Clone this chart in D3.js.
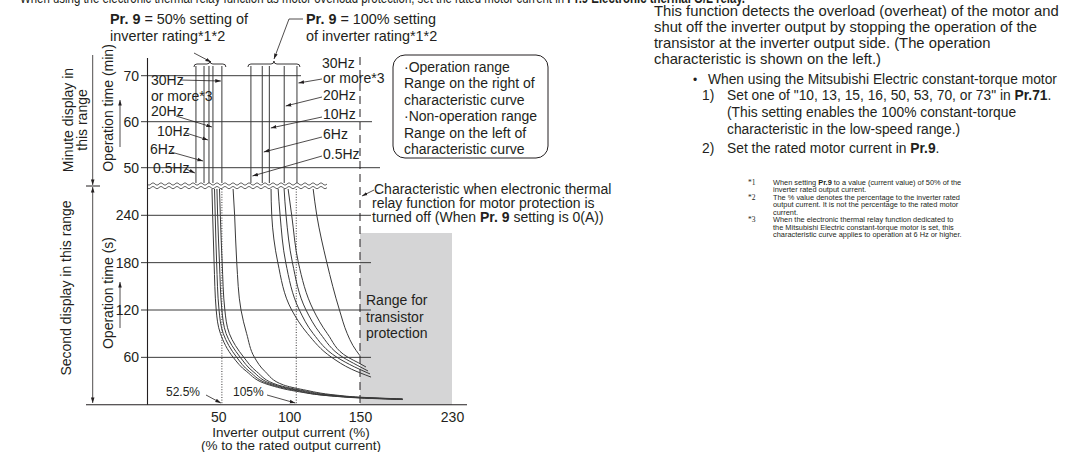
<!DOCTYPE html>
<html>
<head>
<meta charset="utf-8">
<script src="https://cdn.jsdelivr.net/npm/d3@7"></script>
<style>
  body { margin: 0; background: #fff; }
  svg { display: block; font-family: "Liberation Sans", Arial, sans-serif; }
</style>
</head>
<body>
<div id="chart"></div>
<script>
// ---- data ----
const xTicks = [50, 100, 150, 230];
const minTicks = [70, 60, 50];
const secTicks = [240, 180, 120, 60];
const freqLabels = ["0.5Hz", "6Hz", "10Hz", "20Hz", "30Hz"];

// minute range: near-vertical characteristic (% of inverter rated current)
const minLines50 = [34.2, 39.9, 43.4, 46.2, 52.5];
const minLines100 = [73, 81, 86, 96.5, 105.5];

// second range: [current %, operation time s]
const curves50 = [
  [[45.5,274],[46,240],[47,180],[48.5,120],[51.5,90],[60.5,60],[70,42],[86,25],[105,17],[130,11],[150,8.5],[187,6.5]],
  [[47.3,274],[47.8,240],[48.8,180],[50.5,120],[53.5,90],[63,60],[72,42],[88,25],[106,17.5],[131,11],[150,8.8],[187,6.7]],
  [[49,274],[49.5,240],[50.8,180],[52.5,120],[55.5,90],[65.5,60],[74.5,42],[90,25],[107,18],[132,11.3],[150,9],[187,6.9]],
  [[50.8,274],[51.4,240],[52.7,180],[54.6,120],[57.8,90],[68,60],[77,42],[92,25],[108,18.5],[133,11.6],[150,9.2],[187,7.1]],
  [[60.4,274],[61.5,240],[63,180],[66,120],[70,90],[75.5,60],[83,42],[96,25],[110,19],[134,12],[150,9.5],[187,7.3]]
];
const curves100 = [
  [[87.2,274],[87.7,240],[92,180],[101.8,120],[113,90],[130,60],[144,45],[159.6,35]],
  [[92.2,274],[93.6,240],[97.6,180],[107.2,120],[117,90],[133.8,60],[146,48],[158.7,39]],
  [[96.4,274],[97.8,240],[102.3,180],[111.9,120],[122,90],[138,60],[148,50],[157,42.7]],
  [[99.2,274],[101.8,240],[106.5,180],[117.1,120],[127,90],[141.6,60],[149,53],[155.2,47.8]],
  [[116.9,274],[119.5,240],[126.6,180],[135.5,120],[141,90],[145,75],[150,62]]
];
const refLines = [52.5, 105];
const refLabels = ["52.5%", "105%"];
const transistorRange = [150, 230];

// ---- scales ----
const x = d3.scaleLinear().domain([0, 150, 230]).range([147.5, 360, 452]);
const ySec = d3.scaleLinear().domain([0, 240]).range([404.7, 215.3]);
const yMin = d3.scaleLinear().domain([50, 70]).range([167.7, 75.7]);

const ink = "#231f20", lineCol = "#3a3a3a";

const svg = d3.select('#chart').append('svg')
  .attr('width', 1080).attr('height', 452)
  .attr('viewBox', [0, 0, 1080, 452]);

svg.append('defs').append('marker')
  .attr('id', 'arr').attr('viewBox', '0 0 10 10')
  .attr('refX', 10).attr('refY', 5)
  .attr('markerWidth', 7).attr('markerHeight', 7)
  .attr('orient', 'auto')
  .append('path').attr('d', 'M0,1.8 L10,5 L0,8.2 Z').attr('fill', ink);

// text helper, parts = [[text, bold], ...]
function txt(g, xx, yy, parts, size, anchor) {
  const t = g.append('text').attr('x', xx).attr('y', yy)
    .attr('font-size', size || 14).attr('fill', ink)
    .attr('text-anchor', anchor || 'start');
  (typeof parts === 'string' ? [[parts, false]] : parts).forEach(p => {
    t.append('tspan').text(p[0]).attr('font-weight', p[1] ? 'bold' : null);
  });
  return t;
}
function arrow(g, pts, w) {
  g.append('path').attr('d', d3.line()(pts)).attr('fill', 'none')
    .attr('stroke', ink).attr('stroke-width', w || 0.8).attr('marker-end', 'url(#arr)');
}

// cut-off heading line (only its lower edge shows)
txt(svg, 20, 3, [["When using the electronic thermal relay function as motor overload protection, set the rated motor current in ", false], ["Pr.9 Electronic thermal O/L relay.", true]], 14)
  .attr('textLength', 725).attr('lengthAdjust', 'spacingAndGlyphs');

// ---- chart ----
const g = svg.append('g');

// transistor protection range
g.append('rect')
  .attr('x', x(transistorRange[0])).attr('y', 233)
  .attr('width', x(transistorRange[1]) - x(transistorRange[0]))
  .attr('height', ySec(0) - 233)
  .attr('fill', '#d5d5d6');

// minute gridlines
const minEnds = { 70: 301, 60: 372, 50: 380 };
g.selectAll('.gmin').data(minTicks).join('line')
  .attr('x1', 141).attr('x2', d => minEnds[d])
  .attr('y1', d => yMin(d)).attr('y2', d => yMin(d))
  .attr('stroke', lineCol).attr('stroke-width', 1);
g.selectAll('.tmin').data(minTicks).join('text')
  .attr('x', 139).attr('y', d => yMin(d) + 5).attr('text-anchor', 'end')
  .attr('font-size', 14).attr('fill', ink).text(d => d);

// second gridlines
g.selectAll('.gsec').data(secTicks).join('line')
  .attr('x1', 141).attr('x2', 371)
  .attr('y1', d => ySec(d)).attr('y2', d => ySec(d))
  .attr('stroke', lineCol).attr('stroke-width', 1);
g.append('g').attr('transform', 'translate(141,0)')
  .call(d3.axisLeft(ySec).tickValues(secTicks).tickSize(0).tickPadding(2))
  .call(a => a.select('.domain').remove())
  .call(a => a.selectAll('text').attr('font-size', 14).attr('fill', ink)
    .attr('font-family', '"Liberation Sans", Arial, sans-serif'));

// 150% line (thermal off characteristic)
g.append('line')
  .attr('x1', x(150)).attr('x2', x(150)).attr('y1', 57).attr('y2', ySec(0))
  .attr('stroke', ink).attr('stroke-width', 1).attr('stroke-dasharray', '8,5');

// reference dotted lines
g.selectAll('.ref').data(refLines).join('line')
  .attr('x1', d => x(d)).attr('x2', d => x(d)).attr('y1', 189).attr('y2', ySec(0))
  .attr('stroke', ink).attr('stroke-width', 0.9).attr('stroke-dasharray', '1,1.6');

// minute range vertical lines
const minTop = 66, minBot = 186;
[minLines50, minLines100].forEach(arr => {
  g.selectAll(null).data(arr).join('line')
    .attr('x1', d => x(d)).attr('x2', d => x(d))
    .attr('y1', minTop).attr('y2', minBot)
    .attr('stroke', lineCol).attr('stroke-width', 1);
});

// second range curves
const curveLine = d3.line().x(d => x(d[0])).y(d => ySec(d[1])).curve(d3.curveMonotoneY);
g.selectAll('.c50').data(curves50.concat(curves100)).join('path')
  .attr('d', curveLine).attr('fill', 'none')
  .attr('stroke', lineCol).attr('stroke-width', 1);

// wavy break
g.append('rect').attr('x', 148).attr('y', 183).attr('width', 181).attr('height', 6).attr('fill', '#fff');
[184, 187.6].forEach(yy => {
  const pts = d3.range(147, 328, 1).map(xx => [xx, yy + 1.1 * Math.sin((xx - 147) / 8 * 2 * Math.PI)]);
  g.append('path').attr('d', d3.line()(pts)).attr('fill', 'none')
    .attr('stroke', lineCol).attr('stroke-width', 0.8);
});

// axes lines
g.append('line').attr('x1', 147.5).attr('x2', 147.5).attr('y1', 58).attr('y2', ySec(0))
  .attr('stroke', ink).attr('stroke-width', 1.1);
g.append('line').attr('x1', 86).attr('x2', 467).attr('y1', ySec(0)).attr('y2', ySec(0))
  .attr('stroke', ink).attr('stroke-width', 1.1);

// x axis
g.append('g').attr('transform', `translate(0,${ySec(0)})`)
  .call(d3.axisBottom(x).tickValues(xTicks).tickSize(0).tickPadding(7))
  .call(a => a.select('.domain').remove())
  .call(a => a.selectAll('text').attr('font-size', 14).attr('fill', ink)
    .attr('font-family', '"Liberation Sans", Arial, sans-serif'));
txt(g, 291, 437, "Inverter output current (%)", 13.5, 'middle');
txt(g, 291, 450, "(% to the rated output current)", 13.5, 'middle');

// ref labels
refLabels.forEach((lab, i) => {
  const lx = i === 0 ? 166 : 233;
  txt(g, lx, 396, lab, 12);
  arrow(g, [[lx + (i === 0 ? 40 : 34), 395], [x(refLines[i]) - 1, 403]]);
});

// left axis titles
function vtext(xx, yy, s, size) {
  g.append('text').attr('transform', `translate(${xx},${yy}) rotate(-90)`)
    .attr('text-anchor', 'middle').attr('font-size', size || 14).attr('fill', ink).text(s);
}
vtext(113, 108, "Operation time (min)");
vtext(113, 293, "Operation time (s)");
vtext(73, 120, "Minute display in");
vtext(87, 120, "this range");
vtext(71, 288, "Second display in this range");
arrow(g, [[120, 147], [120, 100]]);
arrow(g, [[120, 328], [120, 282]]);

// range arrows on far left
g.append('line').attr('x1', 86).attr('x2', 100).attr('y1', 186).attr('y2', 186)
  .attr('stroke', ink).attr('stroke-width', 1);
arrow(g, [[92.7, 55], [92.7, 185]]);
arrow(g, [[92.7, 300], [92.7, 187]]);
arrow(g, [[92.7, 300], [92.7, 403]]);

// brackets
function brace(x1, x2, yy) {
  const m = (x1 + x2) / 2;
  const d = `M${x1},${yy + 3} Q${x1},${yy} ${x1 + 3},${yy} L${m - 3},${yy} Q${m},${yy} ${m},${yy - 3} Q${m},${yy} ${m + 3},${yy} L${x2 - 3},${yy} Q${x2},${yy} ${x2},${yy + 3}`;
  g.append('path').attr('d', d).attr('fill', 'none').attr('stroke', ink).attr('stroke-width', 0.9);
}
brace(x(minLines50[0]) - 2, x(minLines50[4]) + 4, 64);
brace(x(minLines100[0]) - 3, x(minLines100[4]) + 3, 64);

txt(g, 110, 24, [["Pr. 9", true], [" = 50% setting of", false]], 14.4);
txt(g, 110, 41, "inverter rating*1*2", 14.4);
arrow(g, [[194, 53], [211, 62]]);
txt(g, 306, 24, [["Pr. 9", true], [" = 100% setting", false]], 14.4);
txt(g, 306, 41, "of inverter rating*1*2", 14.4);
arrow(g, [[303, 19], [289, 19], [274, 59]]);

// frequency labels, 50% group
const lab50 = [
  { tx: 153, ty: 173, from: [186, 169], ty2: 173 },
  { tx: 150, ty: 154, from: [171, 152], ty2: 161 },
  { tx: 157, ty: 136, from: [186, 133], ty2: 140 },
  { tx: 151, ty: 116, from: [176, 116], ty2: 127 },
  { tx: 151, ty: 85, from: [180, 80], ty2: 81 }
];
lab50.forEach((d, i) => {
  txt(g, d.tx, d.ty, freqLabels[i], 14);
  arrow(g, [d.from, [x(minLines50[i]) - 1, d.ty2]]);
});
txt(g, 151, 101, "or more*3", 14);

const lab100 = [
  { t: "0.5Hz", ty: 159, from: [322, 156], ty2: 176 },
  { t: "6Hz", ty: 139, from: [322, 137], ty2: 152 },
  { t: "10Hz", ty: 119, from: [322, 117], ty2: 128 },
  { t: "20Hz", ty: 100, from: [322, 97], ty2: 106 },
  { t: "or more*3", ty: 83, from: [322, 79], ty2: 83 }
];
lab100.forEach((d, i) => {
  txt(g, 323, d.ty, d.t, 14);
  arrow(g, [d.from, [x(minLines100[i]) + 1.5, d.ty2]]);
});
txt(g, 322, 68, "30Hz", 14);

// operation range box
g.append('rect').attr('x', 393).attr('y', 55).attr('width', 155).attr('height', 103)
  .attr('rx', 12).attr('fill', '#fff').attr('stroke', ink).attr('stroke-width', 1);
["·Operation range", "Range on the right of", "characteristic curve",
 "·Non-operation range", "Range on the left of", "characteristic curve"]
  .forEach((s, i) => txt(g, 404, 72 + i * 16.4, s, 14));

// thermal off note
txt(g, 374, 194, "Characteristic when electronic thermal", 14);
txt(g, 372, 208, "relay function for motor protection is", 14);
txt(g, 372, 222, [["turned off (When ", false], ["Pr. 9", true], [" setting is 0(A))", false]], 14);
arrow(g, [[374, 190], [362, 196]]);

// transistor range text
["Range for", "transistor", "protection"].forEach((s, i) => txt(g, 366, 305 + i * 16.6, s, 14));

// ---- right column text ----
const r = svg.append('g');
["This function detects the overload (overheat) of the motor and",
 "shut off the inverter output by stopping the operation of the",
 "transistor at the inverter output side. (The operation",
 "characteristic is shown on the left.)"]
  .forEach((s, i) => txt(r, 654, 15.5 + i * 16.2, s, 14.8));
txt(r, 693, 83.5, "•", 12);
txt(r, 708, 83.5, "When using the Mitsubishi Electric constant-torque motor", 13.8);
txt(r, 702, 100, "1)", 13.8);
txt(r, 727, 100, [["Set one of \"10, 13, 15, 16, 50, 53, 70, or 73\" in ", false], ["Pr.71", true], [".", false]], 13.8);
txt(r, 727, 117, "(This setting enables the 100% constant-torque", 13.8);
txt(r, 727, 134, "characteristic in the low-speed range.)", 13.8);
txt(r, 702, 152.5, "2)", 13.8);
txt(r, 727, 152.5, [["Set the rated motor current in ", false], ["Pr.9", true], [".", false]], 13.8);

const notes = [
  ["*1", [[["When setting ", false], ["Pr.9", true], [" to a value (current value) of 50% of the", false]], "inverter rated output current."]],
  ["*2", ["The % value denotes the percentage to the inverter rated", "output current. It is not the percentage to the rated motor", "current."]],
  ["*3", ["When the electronic thermal relay function dedicated to", "the Mitsubishi Electric constant-torque motor is set, this", "characteristic curve applies to operation at 6 Hz or higher."]]
];
let ny = 184.5;
notes.forEach(n => {
  r.append('text').attr('x', 748).attr('y', ny).attr('font-size', 7.5)
    .attr('font-family', '"Liberation Serif", serif').attr('fill', ink).text(n[0]);
  n[1].forEach(line => {
    txt(r, 773, ny, line, 7.4);
    ny += 7.5;
  });
});
</script>
</body>
</html>
